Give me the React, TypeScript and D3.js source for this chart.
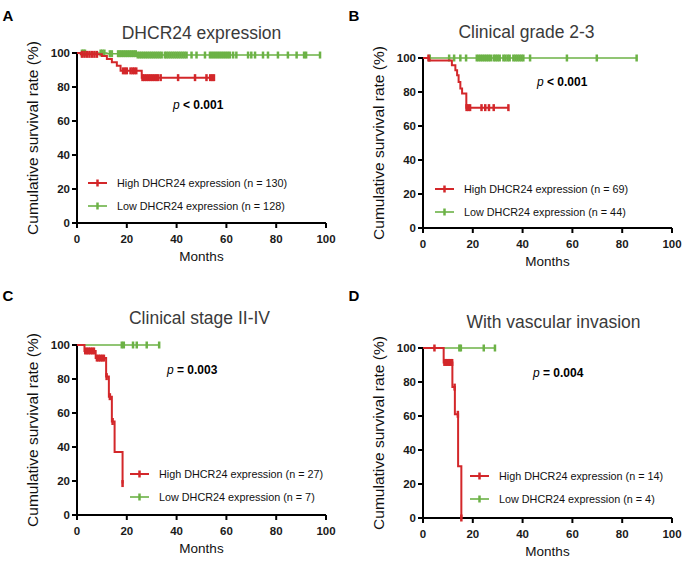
import * as d3 from "d3";

// shared axis ticks
const xTicks = [0, 20, 40, 60, 80, 100];
const yTicks = [0, 20, 40, 60, 80, 100];

// A: DHCR24 expression
const aHighTimes = [0, 1.5, 10, 12, 14, 16, 17.5, 26];
const aHighSurv = [100, 99.2, 98.2, 96.5, 94.5, 92.5, 89.5, 85.5];
const aHighEnd = 55;
const aHighCensor = [2, 3, 4, 5, 6, 7, 8, 18.5, 19.3, 20, 21.5, 22.3, 23, 23.8, 26.3, 27, 27.8, 28.6, 29.4, 30.2, 31, 31.8, 32.5, 33.6, 40.6, 47.4, 52, 53.5, 54.3, 55];
const aLowTimes = [0, 12, 24];
const aLowSurv = [100, 99.6, 98.8];
const aLowEnd = 97.6;
const aLowCensor = [2, 2.6, 3.2, 9.5, 10.2, 11, 13.2, 14, 16.5, 17.2, 18, 18.8, 19.6, 20.4, 21.2, 22, 22.8, 23.6, 24.4, 25.2, 26, 26.8, 27.6, 28.4, 29.2, 30, 30.8, 31.6, 32.4, 33.2, 34, 35.3, 36, 36.8, 37.6, 38.4, 39.2, 40, 40.8, 41.6, 42.4, 43.2, 44, 46, 48, 51.4, 53.4, 54.2, 55, 55.8, 56.6, 57.4, 58.2, 59, 59.8, 60.6, 61.4, 62.7, 64, 68.7, 70, 71.5, 74.7, 76.7, 80.7, 84.7, 88.2, 91.2, 92, 97.6];

// B: Clinical grade 2-3
const bHighTimes = [0, 2.5, 11.6, 13, 13.7, 14.3, 15, 15.7, 17.4];
const bHighSurv = [100, 98.6, 95.7, 92.8, 89.8, 85.9, 82, 79.1, 70.8];
const bHighEnd = 34.5;
const bHighCensor = [2.2, 17.5, 18.2, 18.9, 23.5, 25, 26.5, 28.4, 34.3];
const bLowTimes = [0];
const bLowSurv = [100];
const bLowEnd = 85.8;
const bLowCensor = [2.7, 10.5, 12.5, 15, 17.3, 21.6, 22.4, 23.2, 24, 24.8, 25.6, 26.4, 27.2, 28.4, 29.2, 30, 30.8, 32.3, 33.1, 34, 34.8, 36.3, 37.1, 37.9, 38.7, 39.5, 40.3, 43, 57.8, 69.8, 85.8];

// C: Clinical stage II-IV
const cHighTimes = [0, 3, 7.5, 11.7, 12.8, 14, 15.1, 18.3];
const cHighSurv = [100, 96.5, 92.3, 81.4, 69.6, 55, 37, 18.5];
const cHighEnd = 18.3;
const cHighCensor = [3.3, 4, 4.7, 5.4, 6.1, 6.8, 8, 8.7, 9.4, 10.1, 10.8, 11.9, 13.2, 14.3, 18.3];
const cLowTimes = [0];
const cLowSurv = [100];
const cLowEnd = 33.3;
const cLowCensor = [18, 18.8, 22.5, 24, 28, 33];

// D: With vascular invasion
const dHighTimes = [0, 8.3, 11.8, 12.8, 14.1, 15.4];
const dHighSurv = [100, 91.5, 77, 61, 30.5, 0];
const dHighEnd = 15.4;
const dHighCensor = [4.6, 8.6, 9.2, 9.8, 10.4, 11, 11.7, 12.7, 14, 15.4];
const dLowTimes = [0];
const dLowSurv = [100];
const dLowEnd = 29;
const dLowCensor = [14.6, 15.2, 24.4, 28.9];

const RED = "#d3272a";
const GREEN = "#6cb246";
const FONT = "'Liberation Sans', Arial, sans-serif";

type Series = { times: number[]; surv: number[]; end: number; censor: number[] };

const panels = [
  {
    letter: "A", title: "DHCR24 expression", left: 77, top: 53, letterDy: -38, titleDx: 0, titleDy: -20,
    high: { times: aHighTimes, surv: aHighSurv, end: aHighEnd, censor: aHighCensor },
    low: { times: aLowTimes, surv: aLowSurv, end: aLowEnd, censor: aLowCensor },
    nHigh: 130, nLow: 128, pOp: "<", pVal: "0.001",
    legX: 11, legY: 130, pX: 96, pY: 52,
  },
  {
    letter: "B", title: "Clinical grade 2-3", left: 423, top: 58, letterDy: -43, titleDx: -21, titleDy: -26,
    high: { times: bHighTimes, surv: bHighSurv, end: bHighEnd, censor: bHighCensor },
    low: { times: bLowTimes, surv: bLowSurv, end: bLowEnd, censor: bLowCensor },
    nHigh: 69, nLow: 44, pOp: "<", pVal: "0.001",
    legX: 12, legY: 131, pX: 114, pY: 24,
  },
  {
    letter: "C", title: "Clinical stage II-IV", left: 77, top: 345, letterDy: -50, titleDx: -2, titleDy: -27,
    high: { times: cHighTimes, surv: cHighSurv, end: cHighEnd, censor: cHighCensor },
    low: { times: cLowTimes, surv: cLowSurv, end: cLowEnd, censor: cLowCensor },
    nHigh: 27, nLow: 7, pOp: "=", pVal: "0.003",
    legX: 53, legY: 129, pX: 90, pY: 25,
  },
  {
    letter: "D", title: "With vascular invasion", left: 423, top: 348, letterDy: -53, titleDx: 6, titleDy: -26,
    high: { times: dHighTimes, surv: dHighSurv, end: dHighEnd, censor: dHighCensor },
    low: { times: dLowTimes, surv: dLowSurv, end: dLowEnd, censor: dLowCensor },
    nHigh: 14, nLow: 4, pOp: "=", pVal: "0.004",
    legX: 47, legY: 128, pX: 110, pY: 25,
  },
];

const W = 249;
const H = 170;

const Curve = ({ s, color, x, y, width }: { s: Series; color: string; x: d3.ScaleLinear<number, number>; y: d3.ScaleLinear<number, number>; width: number }) => {
  const pts: [number, number][] = s.times.map((t, i) => [t, s.surv[i]]);
  pts.push([s.end, s.surv[s.surv.length - 1]]);
  const line = d3.line<[number, number]>().x((d) => x(d[0])).y((d) => y(d[1])).curve(d3.curveStepAfter);
  const bis = d3.bisector((t: number) => t).right;
  return (
    <g>
      <path d={line(pts) ?? ""} fill="none" stroke={color} strokeWidth={width} />
      {s.censor.map((c, i) => {
        const v = s.surv[Math.max(0, bis(s.times, c) - 1)];
        return <line key={i} x1={x(c)} x2={x(c)} y1={y(v) - 3.5} y2={y(v) + 3.5} stroke={color} strokeWidth={2.5} />;
      })}
    </g>
  );
};

const Panel = ({ p }: { p: (typeof panels)[number] }) => {
  const x = d3.scaleLinear().domain([0, 100]).range([0, W]);
  const y = d3.scaleLinear().domain([0, 100]).range([H, 0]);
  return (
    <g transform={`translate(${p.left},${p.top})`} fontFamily={FONT}>
      <text x={-69} y={p.letterDy} fontSize={15} fontWeight="bold" textAnchor="middle" dominantBaseline="central">{p.letter}</text>
      <text x={W / 2 + p.titleDx} y={p.titleDy} fontSize={17.5} fill="#3a3a3a" textAnchor="middle" dominantBaseline="central">{p.title}</text>
      <text transform={`translate(-45,${H / 2}) rotate(-90)`} fontSize={15.5} fill="#111" textAnchor="middle" dominantBaseline="central">Cumulative survival rate (%)</text>
      <text x={W / 2} y={H + 33} fontSize={13.5} fill="#111" textAnchor="middle" dominantBaseline="central">Months</text>

      {/* axes */}
      <line x1={0} x2={0} y1={-1} y2={H + 1} stroke="#000" strokeWidth={2} />
      <line x1={-1} x2={W} y1={H} y2={H} stroke="#000" strokeWidth={2} />
      {yTicks.map((t) => (
        <g key={t} transform={`translate(0,${y(t)})`}>
          <line x1={-5} x2={0} stroke="#000" strokeWidth={2} />
          <text x={-7} fontSize={11.5} fontWeight="bold" fill="#1a1a1a" textAnchor="end" dominantBaseline="central">{t}</text>
        </g>
      ))}
      {xTicks.map((t) => (
        <g key={t} transform={`translate(${x(t)},${H})`}>
          <line y1={0} y2={5} stroke="#000" strokeWidth={2} />
          <text y={16} fontSize={11.5} fontWeight="bold" fill="#1a1a1a" textAnchor="middle" dominantBaseline="central">{t}</text>
        </g>
      ))}

      <Curve s={p.low} color={GREEN} x={x} y={y} width={1.6} />
      <Curve s={p.high} color={RED} x={x} y={y} width={2} />

      <text x={p.pX} y={p.pY} fontSize={12} dominantBaseline="central">
        <tspan fontStyle="italic">p</tspan>
        <tspan fontWeight="bold">{` ${p.pOp} ${p.pVal}`}</tspan>
      </text>

      {[{ c: RED, label: `High DHCR24 expression (n = ${p.nHigh})`, w: 2 }, { c: GREEN, label: `Low DHCR24 expression (n = ${p.nLow})`, w: 1.6 }].map((l, i) => (
        <g key={i} transform={`translate(${p.legX},${p.legY + i * 23})`}>
          <line x1={0} x2={19} stroke={l.c} strokeWidth={l.w} />
          <line x1={9.5} x2={9.5} y1={-3.5} y2={3.5} stroke={l.c} strokeWidth={2.5} />
          <text x={29} fontSize={10.8} fill="#111" dominantBaseline="central">{l.label}</text>
        </g>
      ))}
    </g>
  );
};

export default function App() {
  return (
    <svg width={685} height={561} style={{ position: "absolute", left: 0, top: 0, background: "#fff" }}>
      <rect width={685} height={561} fill="#fff" />
      {panels.map((p) => (
        <Panel key={p.letter} p={p} />
      ))}
    </svg>
  );
}
